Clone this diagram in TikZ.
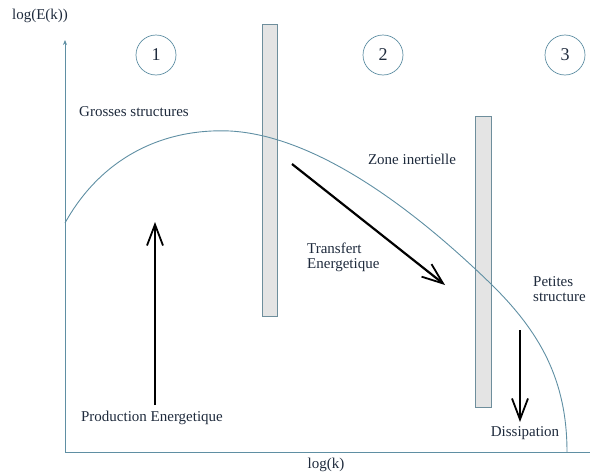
\documentclass[tikz,border=0pt]{standalone}
\usepackage{fontspec}
\setmainfont{Liberation Serif}
\usetikzlibrary{arrows.meta}
\definecolor{axisc}{HTML}{5F8FA3}
\definecolor{txt}{HTML}{1E2A3C}
\definecolor{barfill}{HTML}{E4E4E4}
\definecolor{barline}{HTML}{6E8E9C}
\tikzset{
  lbl/.style={text=txt, font=\fontsize{15}{15.5}\selectfont, inner sep=1pt},
  num/.style={circle, draw=axisc, line width=0.7pt, minimum size=40pt, text=txt, font=\fontsize{18}{20}\selectfont, inner sep=0pt},
  bar/.style={draw=barline, fill=barfill, line width=0.8pt},
  axis/.style={draw=axisc, line width=0.9pt},
  bigarrow/.style={draw=black, line width=2.2pt, -{Straight Barb[length=21pt,width=16pt,line width=1.8pt]}},
  spectrum/.style={draw=axisc, line width=0.9pt}
}
\begin{document}
\begin{tikzpicture}[x=1pt,y=-1pt]
\useasboundingbox (0,0) rectangle (590,474);
\begin{scope}
\clip (0,0) rectangle (590,474);
% axes
\coordinate (O) at (65,452);
\coordinate (ytop) at (65,40);
\coordinate (xend) at (592,452);
\draw[axis,-{Stealth[length=5pt,width=4pt]}] (O) -- (ytop);
\draw[axis] (O) -- (xend);
\node[lbl] (ylab) at (40,16) {log(E(k))};
\node[lbl] (xlab) at (326,465) {log(k)};
% zone bars
\draw[bar] (262,24) rectangle (277,316);
\draw[bar] (475,116) rectangle (491,407);
% numbers
\node[num] (n1) at (156,55) {1};
\node[num] (n2) at (383,55) {2};
\node[num] (n3) at (565,55) {3};
% spectrum curve
\draw[spectrum] (65,223) .. controls (100,160) and (160,128) .. (230,131)
  .. controls (320,136) and (420,215) .. (491,284)
  .. controls (540,332) and (567,380) .. (567,452);
% labels
\node[lbl] (gs) at (134,112) {Grosses structures};
\node[lbl] (zi) at (412,159) {Zone inertielle};
\node[lbl, align=left, anchor=west] (te) at (306,257.5) {Transfert\\Energetique};
\node[lbl, align=left, anchor=west] (ps) at (532,289) {Petites\\structure};
\node[lbl] (pe) at (152,418) {Production Energetique};
\node[lbl] (di) at (525,433) {Dissipation};
% arrows
\coordinate (p0) at (155,405);
\coordinate (p1) at (155,222);
\coordinate (t0) at (292,164);
\coordinate (t1) at (445,285);
\coordinate (d0) at (520,330);
\coordinate (d1) at (520,422);
\draw[bigarrow] (p0) -- (p1);
\draw[bigarrow] (t0) -- (t1);
\draw[bigarrow] (d0) -- (d1);
\end{scope}
\end{tikzpicture}
\end{document}
